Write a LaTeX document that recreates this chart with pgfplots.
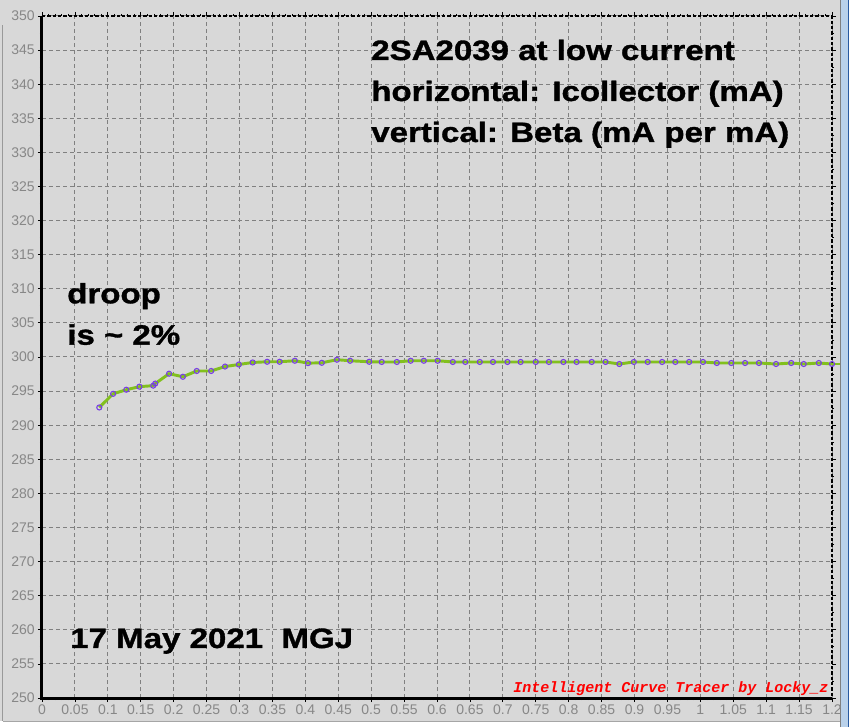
\documentclass[border=0pt]{standalone}
\usepackage{pgfplots}
\pgfplotsset{compat=1.18}
\usepackage{fontspec}
\setmainfont{Liberation Sans}
\newfontfamily\blackf[FakeStretch=1.18, FakeBold=1.2]{Liberation Sans Bold}
\newfontfamily\monof{Liberation Mono}
\definecolor{bggray}{RGB}{216,216,216}
\definecolor{gridgray}{RGB}{128,128,128}
\definecolor{ticklab}{RGB}{135,135,135}
\definecolor{lgreen}{RGB}{130,192,30}
\definecolor{mpurple}{RGB}{120,60,230}
\definecolor{sbblue}{RGB}{185,209,234}
\definecolor{sbdark}{RGB}{40,90,160}
\begin{document}
\begin{tikzpicture}
% background (1px = 0.75pt, axis origin at pixel (42,698))
\fill[bggray] (-31.5pt,-21.75pt) rectangle (609.75pt,523.5pt);
% bottom white strip
\fill[white] (-31.5pt,-21.75pt) rectangle (609.75pt,-17.25pt);
\draw[gray!70,line width=0.75pt] (-29pt,-17.25pt) -- (609.75pt,-17.25pt);
% left frame
\draw[gray!80,line width=0.75pt] (-29.25pt,-17.25pt) -- (-29.25pt,505pt);
% right scrollbar
\fill[white] (605pt,-21.75pt) rectangle (609.75pt,523.5pt);
\fill[sbblue] (599.25pt,-21.75pt) rectangle (605pt,523.5pt);
\draw[gray,line width=0.75pt] (598.9pt,-21.75pt) -- (598.9pt,523.5pt);
\draw[sbdark,line width=0.75pt] (605pt,-21.75pt) -- (605pt,523.5pt);
\begin{axis}[
  scale only axis,
  width=592.5pt, height=511.5pt,
  at={(0,0)}, anchor=south west,
  xmin=0, xmax=1.2, ymin=250, ymax=350,
  xtick={0,0.05,...,1.21},
  ytick={250,255,...,350},
  xticklabels={0,0.05,0.1,0.15,0.2,0.25,0.3,0.35,0.4,0.45,0.5,0.55,0.6,0.65,0.7,0.75,0.8,0.85,0.9,0.95,1,1.05,1.1,1.15,1.2},
  minor x tick num=4,
  minor y tick num=1,
  /pgf/number format/assume math mode=true,
  ticklabel style={font=\fontsize{10.5}{12}\selectfont, text=ticklab},
  xticklabel style={yshift=1.5pt},
  yticklabel style={xshift=1pt},
  tick align=outside,
  major tick length=3pt,
  minor tick length=1.5pt,
  tick style={black, line width=0.6pt},
  grid=major,
  major grid style={gridgray, line width=0.75pt, dash pattern=on 3pt off 2.25pt},
  axis line style={draw=none},
  axis background/.style={fill=bggray},
  clip=false,
]
\draw[black,line width=2.25pt] (rel axis cs:0,1) -- (rel axis cs:0,0) -- (rel axis cs:1,0);
\draw[black,line width=0.9pt,dash pattern=on 2.5pt off 1.5pt] (rel axis cs:0,1) -- (rel axis cs:1,1) -- (rel axis cs:1,0);
\addplot[lgreen, line width=2.2pt, mark=o, mark size=1.9pt,
  mark options={draw=mpurple, line width=0.8pt, solid}] coordinates {
(0.087,292.6) (0.108,294.6) (0.128,295.2) (0.148,295.65) (0.169,295.8) (0.172,296.1)
(0.193,297.55) (0.214,297.1) (0.235,297.95) (0.257,297.95) (0.278,298.6) (0.299,298.9)
(0.320,299.2) (0.342,299.3) (0.361,299.3) (0.384,299.45) (0.404,299.1) (0.425,299.15)
(0.448,299.6) (0.468,299.45) (0.497,299.3) (0.516,299.27) (0.539,299.27) (0.560,299.45)
(0.580,299.45) (0.601,299.45) (0.624,299.27) (0.643,299.27) (0.665,299.27) (0.685,299.27)
(0.707,299.27) (0.727,299.27) (0.750,299.27) (0.770,299.27) (0.792,299.27) (0.812,299.27)
(0.835,299.27) (0.856,299.27) (0.877,298.97) (0.899,299.27) (0.920,299.27) (0.942,299.27)
(0.962,299.27) (0.983,299.27) (1.004,299.27) (1.025,299.12) (1.047,299.12) (1.068,299.12)
(1.089,299.12) (1.115,298.97) (1.138,299.12) (1.157,298.97) (1.180,299.12) (1.200,298.97)
};
\addplot[lgreen, line width=2.2pt, forget plot] coordinates {(1.200,298.97) (1.212,298.97)};
\end{axis}
\begin{scope}[every node/.style={inner sep=0pt, anchor=base west, font=\blackf\fontsize{21}{24}\selectfont}]
\node at (246.75pt,478.5pt) {2SA2039 at low current};
\node at (246.75pt,447.75pt) {horizontal: Icollector (mA)};
\node at (246.75pt,417pt) {vertical: Beta (mA per mA)};
\node at (18.75pt,296pt) {droop};
\node at (18.75pt,265pt) {is \textasciitilde\ 2\%};
\node at (21pt,37.5pt) {17 May 2021\ \ MGJ};
\end{scope}
\node[inner sep=0pt, anchor=base west, text=red, font=\monof\bfseries\itshape\fontsize{11.25}{13}\selectfont] at (353.25pt,4pt) {Intelligent Curve Tracer by Locky\_z};
\pgfresetboundingbox
\path[use as bounding box] (-31.5pt,-21.75pt) rectangle (609.75pt,523.5pt);
\end{tikzpicture}
\end{document}
